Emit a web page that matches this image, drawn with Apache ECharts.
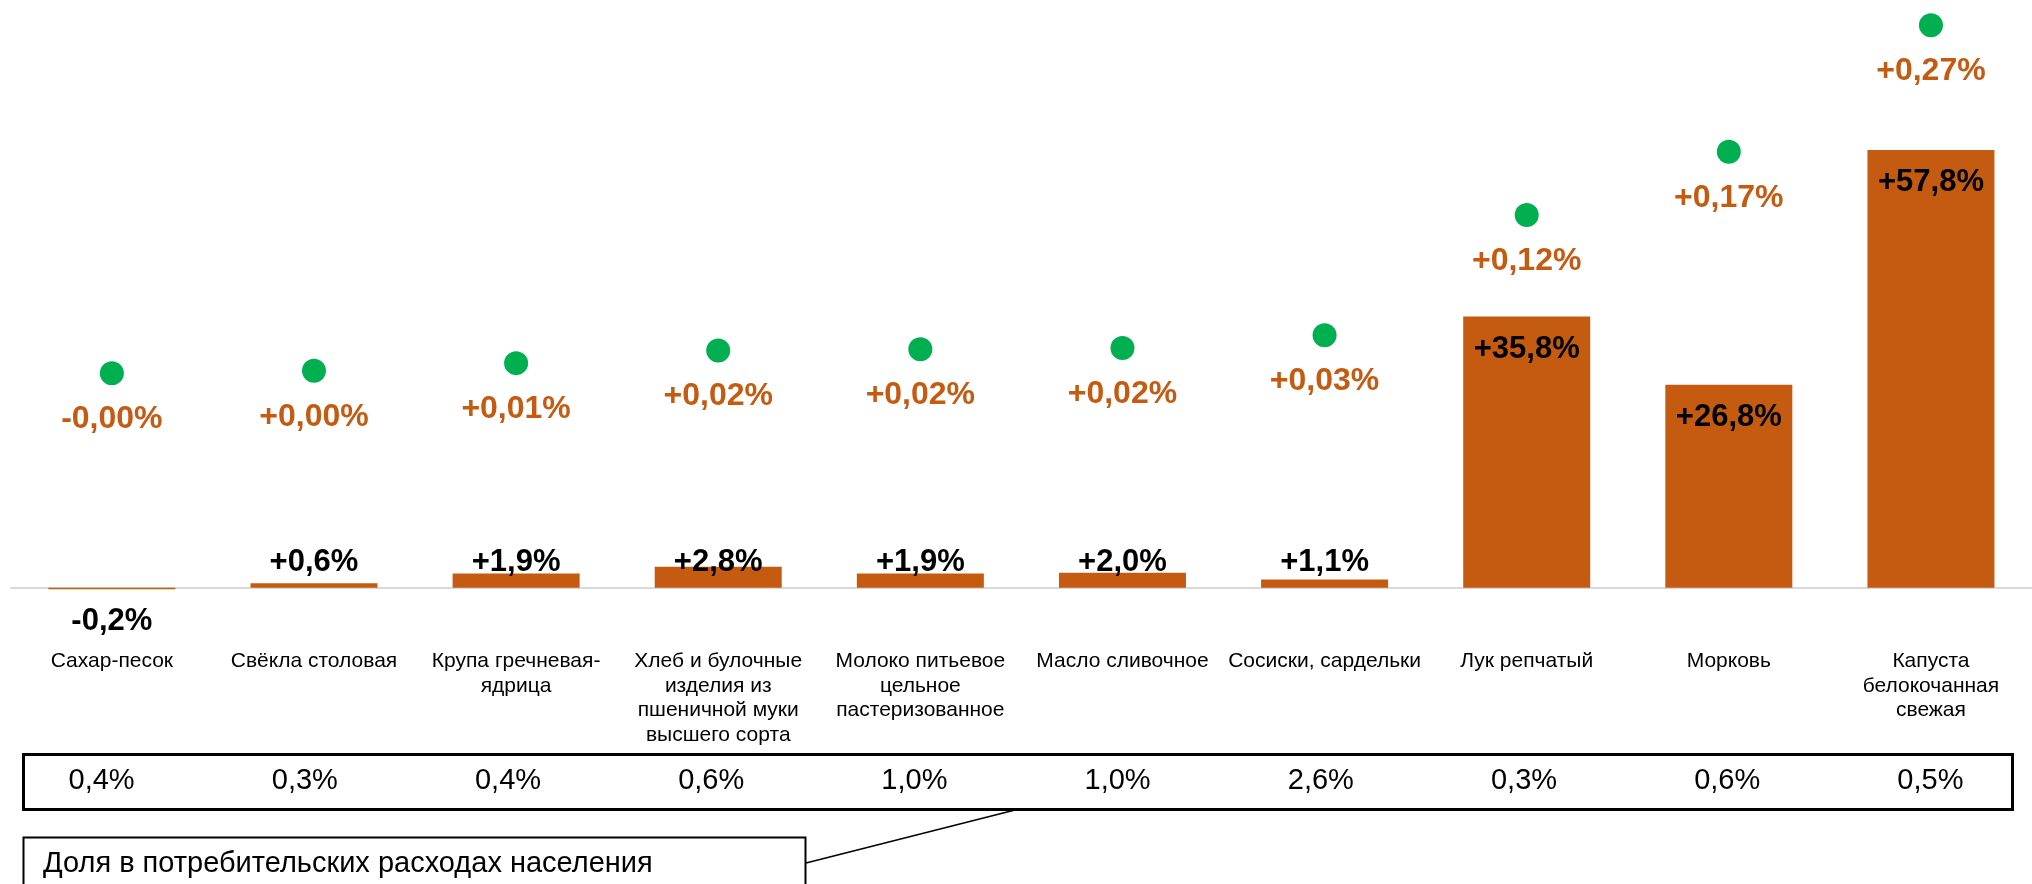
<!DOCTYPE html>
<html>
<head>
<meta charset="utf-8">
<script src="https://cdn.jsdelivr.net/npm/echarts@6/dist/echarts.min.js"></script>
<style>
    html, body {margin: 0; padding: 0; background: #fff;}
    #chart {width: 2032px; height: 884px;}
</style>
</head>
<body>
<div id="chart"></div>
<script>
const categories = [
    'Сахар-песок',
    'Свёкла столовая',
    'Крупа гречневая-\nядрица',
    'Хлеб и булочные\nизделия из\nпшеничной муки\nвысшего сорта',
    'Молоко питьевое\nцельное\nпастеризованное',
    'Масло сливочное',
    'Сосиски, сардельки',
    'Лук репчатый',
    'Морковь',
    'Капуста\nбелокочанная\nсвежая'
]
// price change, %
const priceChange = [-0.2, 0.6, 1.9, 2.8, 1.9, 2.0, 1.1, 35.8, 26.8, 57.8]
// contribution to inflation, p.p.
const contribution = [-0.001, 0.001, 0.007, 0.017, 0.018, 0.019, 0.029, 0.124, 0.174, 0.274]
// share in consumer spending, %
const shareOfSpending = [0.4, 0.3, 0.4, 0.6, 1.0, 1.0, 2.6, 0.3, 0.6, 0.5]

const FONT = "'Liberation Sans', Arial, sans-serif"
const ORANGE = '#C55A11'
const GREEN = '#00B050'

const fmt = (v, d) => (v < 0 ? '-' : '+') + Math.abs(v).toFixed(d).replace('.', ',') + '%'

const chart = echarts.init(document.getElementById('chart'))

const barData = priceChange.map(v => {
    let label
    if (v < 0) {
        label = {position: 'bottom', distance: 17}
    } else if (v > 10) {
        label = {position: 'insideTop', distance: 17}
    } else {
        // small bars: labels sit at roughly the same height
        label = {position: 'top', distance: 10 - 7.578 * v}
    }
    return {value: v, label: label}
})

const option = {
    animation: false,
    textStyle: {fontFamily: FONT},
    grid: [
        {left: 10.8, right: -13, top: 12, height: 591},
        {left: -12.7, right: -28.6, top: 760, height: 5}
    ],
    xAxis: [
        {
            type: 'category',
            gridIndex: 0,
            data: categories,
            axisLine: {show: true, lineStyle: {color: '#D9D9D9', width: 2}},
            axisTick: {show: false},
            axisLabel: {
                interval: 0,
                margin: 46,
                color: '#000',
                fontSize: 21,
                lineHeight: 24.5,
                fontFamily: FONT,
                verticalAlign: 'top'
            }
        },
        {
            type: 'category',
            gridIndex: 1,
            data: shareOfSpending.map(v => v.toFixed(1).replace('.', ',') + '%'),
            axisLine: {show: false},
            axisTick: {show: false},
            axisLabel: {interval: 0, margin: 1, color: '#000', fontSize: 29, fontFamily: FONT}
        }
    ],
    yAxis: [
        {
            type: 'value', gridIndex: 0, min: -2, max: 76,
            show: false, splitLine: {show: false}
        },
        {
            type: 'value', gridIndex: 0, min: -0.1825, max: 0.2844,
            show: false, splitLine: {show: false}
        },
        {type: 'value', gridIndex: 1, show: false, splitLine: {show: false}}
    ],
    series: [
        {
            name: 'Изменение цены',
            type: 'bar',
            xAxisIndex: 0,
            yAxisIndex: 0,
            barWidth: 127,
            itemStyle: {color: ORANGE},
            label: {
                show: true,
                color: '#000',
                fontSize: 31,
                fontWeight: 'bold',
                fontFamily: FONT,
                formatter: p => fmt(p.value, 1)
            },
            data: barData
        },
        {
            name: 'Вклад',
            type: 'scatter',
            xAxisIndex: 0,
            yAxisIndex: 1,
            symbol: 'circle',
            symbolSize: 24,
            itemStyle: {color: GREEN, opacity: 1},
            label: {
                show: true,
                position: 'bottom',
                distance: 18,
                color: ORANGE,
                fontSize: 32,
                fontWeight: 'bold',
                fontFamily: FONT,
                formatter: p => fmt(p.value, 2)
            },
            data: contribution
        }
    ],
    graphic: [
        {
            type: 'rect',
            shape: {x: 23.5, y: 754.5, width: 1989, height: 55},
            style: {fill: 'none', stroke: '#000', lineWidth: 3},
            silent: true
        },
        {
            type: 'rect',
            shape: {x: 23.5, y: 837.5, width: 782, height: 60},
            style: {fill: '#fff', stroke: '#000', lineWidth: 2},
            silent: true
        },
        {
            type: 'text',
            left: 43,
            top: 849,
            style: {text: 'Доля в потребительских расходах населения', fill: '#000', font: '29px ' + FONT},
            silent: true
        },
        {
            type: 'line',
            shape: {x1: 806, y1: 863, x2: 1015, y2: 810},
            style: {stroke: '#000', lineWidth: 1.5},
            silent: true
        }
    ]
}

chart.setOption(option)
</script>
</body>
</html>
